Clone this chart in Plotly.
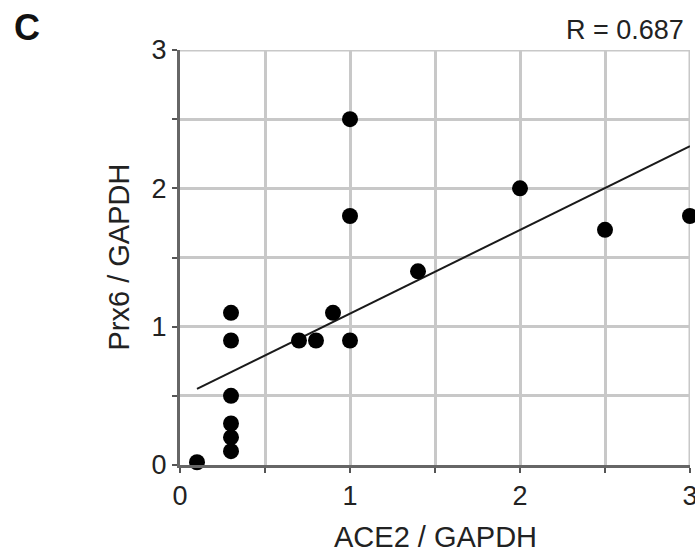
import numpy as np
import plotly.graph_objects as go

# Data
ace2 = [0.1, 0.3, 0.3, 0.3, 0.3, 0.3, 0.3, 0.7, 0.8, 0.9, 1.0, 1.0, 1.0, 1.4, 2.0, 2.5, 3.0]
prx6 = [0.02, 1.1, 0.9, 0.5, 0.3, 0.2, 0.1, 0.9, 0.9, 1.1, 0.9, 2.5, 1.8, 1.4, 2.0, 1.7, 1.8]
tick_vals = [0, 0.5, 1, 1.5, 2, 2.5, 3]
tick_text = ["0", "", "1", "", "2", "", "3"]
r_label = "R = 0.687"

slope, intercept = np.polyfit(ace2, prx6, 1)
fit_x = [min(ace2), max(ace2)]
fit_y = [slope * v + intercept for v in fit_x]

FONT = "Liberation Sans, Arial, sans-serif"
GRID = "#c8c8c8"

fig = go.Figure()
fig.add_trace(go.Scatter(x=fit_x, y=fit_y, mode="lines",
                         line=dict(color="#1a1a1a", width=2), cliponaxis=False,
                         hoverinfo="skip", showlegend=False))
fig.add_trace(go.Scatter(x=ace2, y=prx6, mode="markers",
                         marker=dict(color="black", size=16), cliponaxis=False,
                         showlegend=False))

axis_common = dict(
    range=[0, 3], tickvals=tick_vals, ticktext=tick_text,
    showgrid=True, gridcolor=GRID, gridwidth=3,
    showline=True, linecolor="#666666", linewidth=3,
    ticks="outside", ticklen=5, tickwidth=2, tickcolor="#555555",
    zeroline=False, tickfont=dict(family=FONT, size=27, color="#222222"),
    ticklabeloverflow="allow", automargin=False, fixedrange=True,
)
fig.update_xaxes(**axis_common)
fig.update_yaxes(**axis_common)

# light border lines on the top and right edges (the last grid lines)
fig.add_shape(type="line", xref="x", yref="paper", x0=tick_vals[-1], x1=tick_vals[-1],
              y0=0, y1=1, line=dict(color=GRID, width=3), layer="below")
fig.add_shape(type="line", xref="paper", yref="y", x0=0, x1=1,
              y0=tick_vals[-1], y1=tick_vals[-1], line=dict(color=GRID, width=3), layer="below")

fig.update_layout(
    width=695, height=552,
    margin=dict(l=180, r=5, t=50, b=87, autoexpand=False),
    paper_bgcolor="white", plot_bgcolor="white",
    font=dict(family=FONT, color="#222222"),
    annotations=[
        dict(text="ACE2 / GAPDH", xref="paper", yref="paper", x=0.5, y=0,
             yshift=-72, xanchor="center", yanchor="middle", showarrow=False,
             font=dict(size=29, color="#222222")),
        dict(text="Prx6 / GAPDH", xref="paper", yref="paper", x=0, y=0.5,
             xshift=-62, xanchor="center", yanchor="middle", textangle=-90,
             showarrow=False, font=dict(size=29, color="#222222")),
        dict(text=r_label, xref="paper", yref="paper", x=1, y=1,
             xshift=-4, yshift=20, xanchor="right", yanchor="middle",
             showarrow=False, font=dict(size=27, color="#222222")),
        dict(text="<b>C</b>", xref="paper", yref="paper", x=0, y=1,
             xshift=-153, yshift=23, xanchor="center", yanchor="middle",
             showarrow=False, font=dict(size=36, color="#111111")),
    ],
)

fig.write_html("out.html", config={"displayModeBar": False},
               post_script="document.body.style.margin='0';document.body.style.overflow='hidden';")
